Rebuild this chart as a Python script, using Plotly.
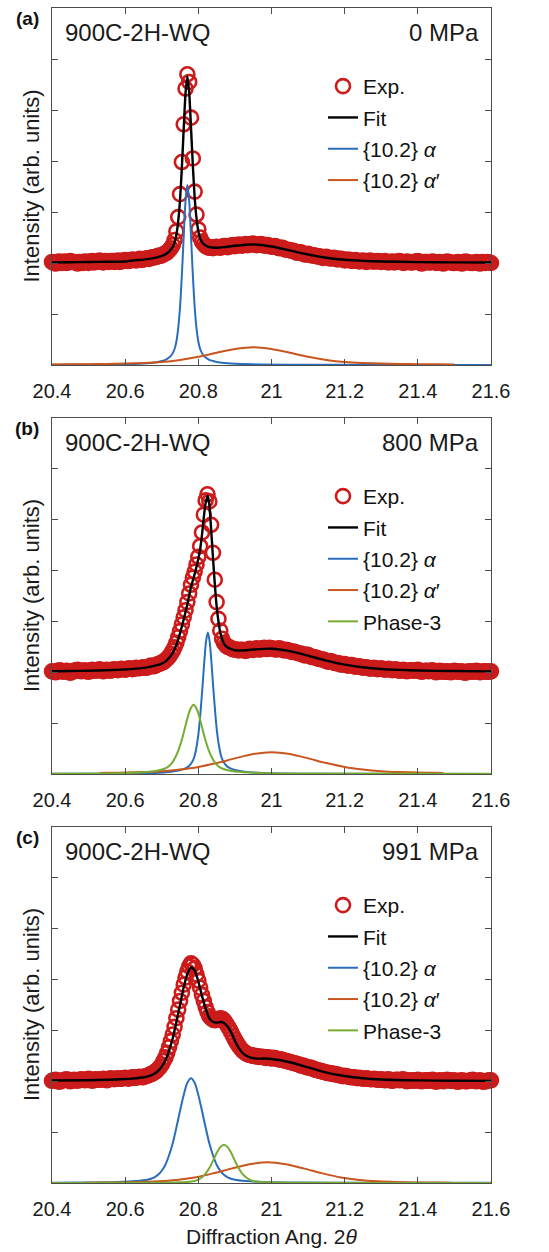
import plotly.graph_objects as go

# ---------------- DATA ----------------
x_ticks = [20.4, 20.6, 20.8, 21.0, 21.2, 21.4, 21.6]
x_tick_text = ["20.4", "20.6", "20.8", "21", "21.2", "21.4", "21.6"]
y_ticks = [1, 2, 3, 4, 5, 6]

panel_tags = ["(a)", "(b)", "(c)"]
sample_names = ["900C-2H-WQ", "900C-2H-WQ", "900C-2H-WQ"]
stress_labels = ["0 MPa", "800 MPa", "991 MPa"]

# ----- panel (a) : 0 MPa -----
exp_a_x = [20.40, 20.41, 20.42, 20.43, 20.44, 20.45, 20.46, 20.47, 20.48, 20.49,
           20.50, 20.51, 20.52, 20.53, 20.54, 20.55, 20.56, 20.57, 20.58, 20.59,
           20.60, 20.61, 20.62, 20.63, 20.64, 20.65, 20.66, 20.67, 20.68, 20.69,
           20.70, 20.705, 20.71, 20.715, 20.72, 20.725, 20.73, 20.735, 20.74, 20.745,
           20.75, 20.755, 20.76, 20.765, 20.77, 20.775, 20.78, 20.785, 20.79, 20.795,
           20.80, 20.805, 20.81, 20.815, 20.82, 20.825, 20.83, 20.835, 20.84, 20.845,
           20.85, 20.86, 20.87, 20.88, 20.89, 20.90, 20.91, 20.92, 20.93, 20.94,
           20.95, 20.96, 20.97, 20.98, 20.99, 21.00, 21.01, 21.02, 21.03, 21.04,
           21.05, 21.06, 21.07, 21.08, 21.09, 21.10, 21.11, 21.12, 21.13, 21.14,
           21.15, 21.16, 21.17, 21.18, 21.19, 21.20, 21.21, 21.22, 21.23, 21.24,
           21.25, 21.26, 21.27, 21.28, 21.29, 21.30, 21.31, 21.32, 21.33, 21.34,
           21.35, 21.36, 21.37, 21.38, 21.39, 21.40, 21.41, 21.42, 21.43, 21.44,
           21.45, 21.46, 21.47, 21.48, 21.49, 21.50, 21.51, 21.52, 21.53, 21.54,
           21.55, 21.56, 21.57, 21.58, 21.59, 21.60]
exp_a_y = [2.02, 1.99, 2.03, 2.01, 2.00, 2.04, 2.02, 1.99, 2.01, 2.03,
           2.00, 2.04, 2.02, 2.05, 2.01, 2.03, 2.04, 2.02, 2.05, 2.03,
           2.06, 2.04, 2.07, 2.05, 2.08, 2.07, 2.09, 2.10, 2.11, 2.14,
           2.15, 2.17, 2.19, 2.21, 2.25, 2.29, 2.35, 2.45, 2.62, 2.90,
           3.35, 3.98, 4.72, 5.42, 5.70, 5.55, 4.85, 4.05, 3.40, 2.95,
           2.66, 2.50, 2.42, 2.37, 2.33, 2.31, 2.30, 2.31, 2.29, 2.31,
           2.32, 2.30, 2.33, 2.31, 2.34, 2.33, 2.36, 2.34, 2.37, 2.36,
           2.38, 2.35, 2.37, 2.34, 2.35, 2.32, 2.33, 2.29, 2.30, 2.26,
           2.25, 2.24, 2.20, 2.21, 2.17, 2.18, 2.15, 2.14, 2.13, 2.10,
           2.12, 2.09, 2.10, 2.07, 2.08, 2.05, 2.07, 2.04, 2.06, 2.03,
           2.05, 2.02, 2.05, 2.03, 2.04, 2.02, 2.04, 2.01, 2.03, 2.02,
           2.04, 2.00, 2.03, 2.01, 2.02, 2.04, 1.99, 2.02, 2.01, 2.03,
           2.00, 2.02, 1.99, 2.03, 2.01, 2.00, 2.02, 1.99, 2.03, 2.01,
           2.00, 2.02, 1.99, 2.01, 2.02, 2.00]
# intermediate exp samples (a)
exp_a_x_mid = [20.405, 20.415, 20.425, 20.435, 20.445, 20.455, 20.465, 20.475, 20.485, 20.495,
               20.505, 20.515, 20.525, 20.535, 20.545, 20.555, 20.565, 20.575, 20.585, 20.595,
               20.605, 20.615, 20.625, 20.635, 20.645, 20.655, 20.665, 20.675, 20.685, 20.695,
               20.855, 20.865, 20.875, 20.885, 20.895, 20.905, 20.915, 20.925, 20.935, 20.945,
               20.955, 20.965, 20.975, 20.985, 20.995,
               21.005, 21.015, 21.025, 21.035, 21.045, 21.055, 21.065, 21.075, 21.085, 21.095,
               21.105, 21.115, 21.125, 21.135, 21.145, 21.155, 21.165, 21.175, 21.185, 21.195,
               21.205, 21.215, 21.225, 21.235, 21.245, 21.255, 21.265, 21.275, 21.285, 21.295,
               21.305, 21.315, 21.325, 21.335, 21.345, 21.355, 21.365, 21.375, 21.385, 21.395,
               21.405, 21.415, 21.425, 21.435, 21.445, 21.455, 21.465, 21.475, 21.485, 21.495,
               21.505, 21.515, 21.525, 21.535, 21.545, 21.555, 21.565, 21.575, 21.585, 21.595]
exp_a_y_mid = [2.00, 2.02, 2.00, 2.03, 2.01, 2.02, 2.01, 2.02, 2.00, 2.02,
               2.03, 2.01, 2.03, 2.02, 2.04, 2.02, 2.04, 2.03, 2.02, 2.05,
               2.04, 2.05, 2.06, 2.06, 2.06, 2.08, 2.08, 2.11, 2.12, 2.14,
               2.31, 2.32, 2.33, 2.32, 2.35, 2.34, 2.35, 2.36, 2.35, 2.37,
               2.36, 2.36, 2.36, 2.35, 2.33,
               2.32, 2.31, 2.30, 2.27, 2.26, 2.24, 2.22, 2.21, 2.19, 2.17,
               2.16, 2.15, 2.13, 2.12, 2.11, 2.10, 2.09, 2.09, 2.08, 2.07,
               2.06, 2.05, 2.05, 2.04, 2.04, 2.03, 2.04, 2.03, 2.03, 2.03,
               2.03, 2.02, 2.02, 2.01, 2.03, 2.02, 2.01, 2.02, 2.01, 2.03,
               2.01, 2.00, 2.02, 2.01, 2.02, 2.01, 2.00, 2.01, 2.02, 2.00,
               2.01, 2.01, 2.00, 2.02, 2.00, 2.01, 2.00, 2.02, 2.00, 2.01]
fit_a_x = [20.40, 20.45, 20.50, 20.55, 20.60, 20.62, 20.65, 20.67, 20.69, 20.70,
           20.71, 20.72, 20.73, 20.735, 20.74, 20.745, 20.75, 20.755, 20.76, 20.765,
           20.77, 20.775, 20.78, 20.785, 20.79, 20.795, 20.80, 20.805, 20.81, 20.82,
           20.83, 20.85, 20.87, 20.90, 20.95, 21.00, 21.05, 21.10, 21.15, 21.20,
           21.25, 21.30, 21.40, 21.50, 21.60]
fit_a_y = [2.010, 2.015, 2.020, 2.025, 2.030, 2.050, 2.066, 2.086, 2.116, 2.138,
           2.169, 2.223, 2.316, 2.401, 2.553, 2.819, 3.237, 3.871, 4.629, 5.334,
           5.654, 5.346, 4.653, 3.907, 3.285, 2.879, 2.623, 2.483, 2.410, 2.341,
           2.310, 2.300, 2.311, 2.338, 2.362, 2.323, 2.246, 2.166, 2.104, 2.063,
           2.042, 2.030, 2.018, 2.012, 2.010]
alpha_a_x = [20.40, 20.57, 20.62, 20.65, 20.67, 20.69, 20.70, 20.71, 20.72, 20.725,
             20.73, 20.735, 20.74, 20.745, 20.75, 20.755, 20.76, 20.765, 20.77, 20.775,
             20.78, 20.785, 20.79, 20.795, 20.80, 20.805, 20.81, 20.815, 20.82, 20.83,
             20.84, 20.85, 20.87, 20.89, 20.92, 20.97, 21.07, 21.60]
alpha_a_y = [0.003, 0.010, 0.018, 0.027, 0.039, 0.060, 0.078, 0.102, 0.148, 0.180,
             0.233, 0.314, 0.462, 0.724, 1.137, 1.765, 2.517, 3.216, 3.530, 3.216,
             2.517, 1.765, 1.137, 0.724, 0.462, 0.314, 0.233, 0.180, 0.148, 0.102,
             0.078, 0.060, 0.039, 0.027, 0.018, 0.010, 0.004, 0.002]
alphap_a_x = [20.40, 20.45, 20.50, 20.55, 20.60, 20.65, 20.70, 20.75, 20.80, 20.85,
              20.90, 20.95, 21.00, 21.05, 21.10, 21.15, 21.20, 21.25, 21.30, 21.35,
              21.40, 21.45, 21.50]
alphap_a_y = [0.0105, 0.013, 0.016, 0.020, 0.027, 0.039, 0.060, 0.100, 0.161, 0.240,
              0.315, 0.350, 0.315, 0.240, 0.161, 0.100, 0.060, 0.039, 0.027, 0.020,
              0.016, 0.013, 0.0105]

# ----- panel (b) : 800 MPa -----
exp_b_x = [20.40, 20.41, 20.42, 20.43, 20.44, 20.45, 20.46, 20.47, 20.48, 20.49,
           20.50, 20.51, 20.52, 20.53, 20.54, 20.55, 20.56, 20.57, 20.58, 20.59,
           20.60, 20.61, 20.62, 20.63, 20.64, 20.65, 20.66, 20.67, 20.68, 20.69,
           20.695, 20.70, 20.705, 20.71, 20.715, 20.72, 20.725, 20.73, 20.735, 20.74,
           20.745, 20.75, 20.755, 20.76, 20.765, 20.77, 20.775, 20.78, 20.785, 20.79,
           20.795, 20.80, 20.805, 20.81, 20.815, 20.82, 20.825, 20.83, 20.835, 20.84,
           20.845, 20.85, 20.855, 20.86, 20.865, 20.87,
           20.88, 20.89, 20.90, 20.91, 20.92, 20.93, 20.94, 20.95, 20.96, 20.97,
           20.98, 20.99, 21.00, 21.01, 21.02, 21.03, 21.04, 21.05, 21.06, 21.07,
           21.08, 21.09, 21.10, 21.11, 21.12, 21.13, 21.14, 21.15, 21.16, 21.17,
           21.18, 21.19, 21.20, 21.21, 21.22, 21.23, 21.24, 21.25, 21.26, 21.27,
           21.28, 21.29, 21.30, 21.31, 21.32, 21.33, 21.34, 21.35, 21.36, 21.37,
           21.38, 21.39, 21.40, 21.41, 21.42, 21.43, 21.44, 21.45, 21.46, 21.47,
           21.48, 21.49, 21.50, 21.51, 21.52, 21.53, 21.54, 21.55, 21.56, 21.57,
           21.58, 21.59, 21.60]
exp_b_y = [2.02, 2.00, 2.04, 2.01, 2.03, 1.99, 2.03, 2.05, 2.02, 2.04,
           2.01, 2.05, 2.03, 2.06, 2.02, 2.05, 2.03, 2.06, 2.04, 2.07,
           2.05, 2.08, 2.06, 2.09, 2.08, 2.10, 2.09, 2.13, 2.12, 2.16,
           2.17, 2.19, 2.20, 2.24, 2.27, 2.31, 2.36, 2.42, 2.49, 2.58,
           2.69, 2.81, 2.94, 3.08, 3.22, 3.38, 3.55, 3.72, 3.86, 3.98,
           4.12, 4.27, 4.48, 4.75, 5.10, 5.38, 5.50, 5.36, 4.90, 4.35,
           3.82, 3.38, 3.05, 2.82, 2.66, 2.58,
           2.50, 2.47, 2.45, 2.43, 2.44, 2.42, 2.46, 2.44, 2.47, 2.45,
           2.48, 2.46, 2.47, 2.45, 2.47, 2.44, 2.44, 2.42, 2.41, 2.38,
           2.37, 2.33, 2.34, 2.30, 2.29, 2.26, 2.25, 2.22, 2.22, 2.19,
           2.18, 2.15, 2.16, 2.13, 2.14, 2.11, 2.12, 2.09, 2.10, 2.07,
           2.09, 2.06, 2.08, 2.05, 2.07, 2.04, 2.06, 2.03, 2.05, 2.02,
           2.04, 2.03, 2.05, 2.01, 2.03, 2.02, 2.04, 2.00, 2.03, 2.01,
           2.02, 2.00, 2.03, 2.01, 2.02, 1.99, 2.02, 2.01, 2.03, 2.00,
           2.02, 2.01, 2.02]
# intermediate exp samples (b)
exp_b_x_mid = [20.405, 20.415, 20.425, 20.435, 20.445, 20.455, 20.465, 20.475, 20.485, 20.495,
               20.505, 20.515, 20.525, 20.535, 20.545, 20.555, 20.565, 20.575, 20.585, 20.595,
               20.605, 20.615, 20.625, 20.635, 20.645, 20.655, 20.665, 20.675, 20.685,
               20.875, 20.885, 20.895, 20.905, 20.915, 20.925, 20.935, 20.945, 20.955, 20.965,
               20.975, 20.985, 20.995,
               21.005, 21.015, 21.025, 21.035, 21.045, 21.055, 21.065, 21.075, 21.085, 21.095,
               21.105, 21.115, 21.125, 21.135, 21.145, 21.155, 21.165, 21.175, 21.185, 21.195,
               21.205, 21.215, 21.225, 21.235, 21.245, 21.255, 21.265, 21.275, 21.285, 21.295,
               21.305, 21.315, 21.325, 21.335, 21.345, 21.355, 21.365, 21.375, 21.385, 21.395,
               21.405, 21.415, 21.425, 21.435, 21.445, 21.455, 21.465, 21.475, 21.485, 21.495,
               21.505, 21.515, 21.525, 21.535, 21.545, 21.555, 21.565, 21.575, 21.585, 21.595]
exp_b_y_mid = [2.01, 2.02, 2.03, 2.02, 2.01, 2.01, 2.04, 2.03, 2.03, 2.02,
               2.03, 2.04, 2.04, 2.04, 2.04, 2.04, 2.05, 2.05, 2.05, 2.06,
               2.06, 2.07, 2.07, 2.08, 2.09, 2.09, 2.11, 2.12, 2.14,
               2.53, 2.49, 2.45, 2.44, 2.44, 2.43, 2.44, 2.45, 2.46, 2.45,
               2.47, 2.46, 2.48,
               2.46, 2.45, 2.46, 2.43, 2.43, 2.40, 2.40, 2.37, 2.35, 2.35,
               2.32, 2.30, 2.28, 2.26, 2.24, 2.21, 2.21, 2.18, 2.17, 2.16,
               2.14, 2.14, 2.12, 2.12, 2.10, 2.10, 2.08, 2.08, 2.07, 2.07,
               2.06, 2.06, 2.05, 2.05, 2.04, 2.04, 2.03, 2.03, 2.04, 2.04,
               2.03, 2.02, 2.03, 2.03, 2.02, 2.01, 2.02, 2.01, 2.01, 2.02,
               2.02, 2.01, 2.00, 2.01, 2.02, 2.02, 2.01, 2.01, 2.02, 2.01]
fit_b_x = [20.40, 20.45, 20.50, 20.55, 20.60, 20.63, 20.65, 20.67, 20.69, 20.70,
           20.71, 20.72, 20.73, 20.74, 20.75, 20.76, 20.77, 20.78, 20.79, 20.80,
           20.805, 20.81, 20.815, 20.82, 20.826, 20.83, 20.835, 20.84, 20.845, 20.85,
           20.855, 20.86, 20.87, 20.88, 20.89, 20.90, 20.92, 20.95, 21.00, 21.05,
           21.10, 21.15, 21.20, 21.25, 21.30, 21.35, 21.40, 21.50, 21.60]
fit_b_y = [2.019, 2.025, 2.031, 2.040, 2.056, 2.071, 2.087, 2.111, 2.145, 2.170,
           2.210, 2.280, 2.380, 2.540, 2.770, 3.040, 3.340, 3.680, 3.930, 4.230,
           4.420, 4.700, 5.050, 5.330, 5.470, 5.300, 4.810, 4.255, 3.740, 3.300,
           3.000, 2.780, 2.564, 2.487, 2.456, 2.434, 2.429, 2.447, 2.464, 2.417,
           2.326, 2.230, 2.151, 2.100, 2.065, 2.047, 2.035, 2.024, 2.017]
alpha_b_x = [20.40, 20.58, 20.68, 20.726, 20.746, 20.766, 20.776, 20.786, 20.791, 20.796,
             20.801, 20.806, 20.811, 20.816, 20.821, 20.826, 20.831, 20.836, 20.841, 20.846,
             20.851, 20.856, 20.861, 20.866, 20.876, 20.886, 20.906, 20.926, 20.976, 21.076,
             21.60]
alpha_b_y = [0.003, 0.007, 0.021, 0.044, 0.067, 0.117, 0.167, 0.278, 0.390, 0.570,
             0.834, 1.223, 1.682, 2.182, 2.605, 2.780, 2.605, 2.182, 1.682, 1.223,
             0.834, 0.570, 0.390, 0.278, 0.167, 0.117, 0.067, 0.044, 0.020, 0.007,
             0.002]
alphap_b_x = [20.53, 20.55, 20.60, 20.65, 20.70, 20.75, 20.80, 20.85, 20.90, 20.95,
              21.00, 21.05, 21.10, 21.15, 21.20, 21.25, 21.30, 21.35, 21.40, 21.45,
              21.47]
alphap_b_y = [0.021, 0.023, 0.028, 0.039, 0.056, 0.088, 0.138, 0.215, 0.307, 0.392,
              0.430, 0.392, 0.307, 0.215, 0.138, 0.088, 0.056, 0.039, 0.028, 0.023,
              0.021]
phase3_b_x = [20.40, 20.53, 20.607, 20.657, 20.687, 20.707, 20.717, 20.727, 20.737, 20.747,
              20.757, 20.767, 20.777, 20.787, 20.797, 20.807, 20.817, 20.827, 20.837, 20.847,
              20.857, 20.867, 20.887, 20.917, 20.967, 21.037, 21.60]
phase3_b_y = [0.004, 0.011, 0.021, 0.038, 0.065, 0.103, 0.141, 0.211, 0.324, 0.495,
              0.728, 1.008, 1.254, 1.360, 1.254, 1.008, 0.728, 0.495, 0.324, 0.211,
              0.141, 0.103, 0.065, 0.038, 0.021, 0.011, 0.003]

# ----- panel (c) : 991 MPa -----
exp_c_x = [20.40, 20.41, 20.42, 20.43, 20.44, 20.45, 20.46, 20.47, 20.48, 20.49,
           20.50, 20.51, 20.52, 20.53, 20.54, 20.55, 20.56, 20.57, 20.58, 20.59,
           20.60, 20.61, 20.62, 20.63, 20.64, 20.65,
           20.66, 20.665, 20.67, 20.675, 20.68, 20.685, 20.69, 20.695, 20.70, 20.705,
           20.71, 20.715, 20.72, 20.725, 20.73, 20.735, 20.74, 20.745, 20.75, 20.755,
           20.76, 20.765, 20.77, 20.775, 20.78, 20.785, 20.79, 20.795, 20.80, 20.805,
           20.81, 20.815, 20.82, 20.825, 20.83, 20.835, 20.84, 20.845, 20.85, 20.855,
           20.86, 20.865, 20.87, 20.875, 20.88, 20.885, 20.89, 20.895, 20.90, 20.905,
           20.91,
           20.92, 20.93, 20.94, 20.95, 20.96, 20.97, 20.98, 20.99, 21.00, 21.01,
           21.02, 21.03, 21.04, 21.05, 21.06, 21.07, 21.08, 21.09, 21.10, 21.11,
           21.12, 21.13, 21.14, 21.15, 21.16, 21.17, 21.18, 21.19, 21.20, 21.21,
           21.22, 21.23, 21.24, 21.25, 21.26, 21.27, 21.28, 21.29, 21.30, 21.31,
           21.32, 21.33, 21.34, 21.35, 21.36, 21.37, 21.38, 21.39, 21.40, 21.41,
           21.42, 21.43, 21.44, 21.45, 21.46, 21.47, 21.48, 21.49, 21.50, 21.51,
           21.52, 21.53, 21.54, 21.55, 21.56, 21.57, 21.58, 21.59, 21.60]
exp_c_y = [2.01, 2.03, 1.99, 2.02, 2.04, 2.00, 2.03, 2.01, 2.04, 2.02,
           2.05, 2.01, 2.04, 2.03, 2.05, 2.02, 2.06, 2.04, 2.06, 2.05,
           2.07, 2.05, 2.08, 2.07, 2.09, 2.08,
           2.11, 2.12, 2.14, 2.15, 2.18, 2.20, 2.24, 2.28, 2.33, 2.40,
           2.47, 2.56, 2.67, 2.79, 2.92, 3.07, 3.24, 3.41, 3.58, 3.74,
           3.90, 4.04, 4.16, 4.26, 4.32, 4.29, 4.22, 4.10, 3.98, 3.84,
           3.70, 3.58, 3.46, 3.36, 3.28, 3.24, 3.21, 3.20, 3.21, 3.22,
           3.24, 3.23, 3.20, 3.15, 3.09, 3.03, 2.96, 2.89, 2.82, 2.76,
           2.70,
           2.61, 2.55, 2.52, 2.50, 2.49, 2.48, 2.47, 2.47, 2.45, 2.45,
           2.43, 2.42, 2.40, 2.38, 2.36, 2.34, 2.31, 2.30, 2.27, 2.26,
           2.23, 2.21, 2.19, 2.17, 2.16, 2.14, 2.13, 2.11, 2.11, 2.09,
           2.08, 2.07, 2.07, 2.05, 2.06, 2.04, 2.05, 2.03, 2.04, 2.02,
           2.04, 2.01, 2.03, 2.02, 2.04, 2.00, 2.02, 2.01, 2.03, 2.00,
           2.02, 2.01, 2.03, 1.99, 2.02, 2.00, 2.03, 2.01, 2.02, 1.99,
           2.02, 2.00, 2.01, 2.03, 2.00, 2.02, 1.99, 2.01, 2.02]
# intermediate exp samples (c)
exp_c_x_mid = [20.405, 20.415, 20.425, 20.435, 20.445, 20.455, 20.465, 20.475, 20.485, 20.495,
               20.505, 20.515, 20.525, 20.535, 20.545, 20.555, 20.565, 20.575, 20.585, 20.595,
               20.605, 20.615, 20.625, 20.635, 20.645, 20.655,
               20.915, 20.925, 20.935, 20.945, 20.955, 20.965, 20.975, 20.985, 20.995,
               21.005, 21.015, 21.025, 21.035, 21.045, 21.055, 21.065, 21.075, 21.085, 21.095,
               21.105, 21.115, 21.125, 21.135, 21.145, 21.155, 21.165, 21.175, 21.185, 21.195,
               21.205, 21.215, 21.225, 21.235, 21.245, 21.255, 21.265, 21.275, 21.285, 21.295,
               21.305, 21.315, 21.325, 21.335, 21.345, 21.355, 21.365, 21.375, 21.385, 21.395,
               21.405, 21.415, 21.425, 21.435, 21.445, 21.455, 21.465, 21.475, 21.485, 21.495,
               21.505, 21.515, 21.525, 21.535, 21.545, 21.555, 21.565, 21.575, 21.585, 21.595]
exp_c_y_mid = [2.02, 2.01, 2.01, 2.03, 2.02, 2.02, 2.02, 2.03, 2.03, 2.03,
               2.03, 2.03, 2.03, 2.04, 2.03, 2.04, 2.05, 2.05, 2.05, 2.06,
               2.06, 2.07, 2.07, 2.08, 2.08, 2.10,
               2.65, 2.58, 2.53, 2.51, 2.50, 2.48, 2.48, 2.46, 2.46,
               2.46, 2.44, 2.43, 2.41, 2.39, 2.37, 2.35, 2.33, 2.31, 2.28,
               2.27, 2.24, 2.22, 2.20, 2.18, 2.16, 2.15, 2.14, 2.12, 2.10,
               2.10, 2.08, 2.08, 2.06, 2.06, 2.05, 2.05, 2.04, 2.04, 2.03,
               2.03, 2.03, 2.02, 2.02, 2.03, 2.03, 2.02, 2.01, 2.02, 2.02,
               2.01, 2.01, 2.02, 2.02, 2.01, 2.01, 2.01, 2.02, 2.02, 2.01,
               2.00, 2.01, 2.01, 2.00, 2.02, 2.01, 2.01, 2.00, 2.00, 2.02]
fit_c_x = [20.40, 20.50, 20.55, 20.60, 20.62, 20.64, 20.66, 20.68, 20.69, 20.70,
           20.71, 20.72, 20.73, 20.74, 20.75, 20.76, 20.77, 20.78, 20.79, 20.80,
           20.81, 20.82, 20.83, 20.84, 20.85, 20.86, 20.87, 20.88, 20.89, 20.90,
           20.91, 20.92, 20.93, 20.94, 20.96, 20.98, 21.00, 21.05, 21.10, 21.15,
           21.20, 21.25, 21.30, 21.40, 21.50, 21.60]
fit_c_y = [2.014, 2.021, 2.030, 2.044, 2.053, 2.069, 2.093, 2.148, 2.203, 2.288,
           2.412, 2.604, 2.846, 3.166, 3.504, 3.850, 4.110, 4.240, 4.180, 3.960,
           3.680, 3.430, 3.240, 3.170, 3.154, 3.166, 3.147, 3.076, 2.957, 2.797,
           2.663, 2.567, 2.505, 2.470, 2.446, 2.447, 2.438, 2.374, 2.274, 2.171,
           2.103, 2.059, 2.035, 2.017, 2.011, 2.008]
alpha_c_x = [20.40, 20.48, 20.58, 20.63, 20.66, 20.68, 20.69, 20.70, 20.71, 20.72,
             20.73, 20.74, 20.75, 20.76, 20.77, 20.78, 20.79, 20.80, 20.81, 20.82,
             20.83, 20.84, 20.85, 20.86, 20.87, 20.88, 20.90, 20.93, 20.98, 21.08,
             21.18, 21.60]
alpha_c_y = [0.007, 0.010, 0.021, 0.037, 0.062, 0.111, 0.161, 0.241, 0.360, 0.546,
             0.780, 1.090, 1.420, 1.730, 1.970, 2.060, 1.970, 1.730, 1.420, 1.090,
             0.780, 0.546, 0.360, 0.241, 0.161, 0.111, 0.062, 0.037, 0.021, 0.010,
             0.007, 0.003]
alphap_c_x = [20.49, 20.54, 20.59, 20.64, 20.69, 20.74, 20.79, 20.84, 20.89, 20.94,
              20.99, 21.04, 21.09, 21.14, 21.19, 21.24, 21.29, 21.34, 21.39, 21.44,
              21.49]
alphap_c_y = [0.007, 0.009, 0.012, 0.018, 0.032, 0.059, 0.109, 0.189, 0.283, 0.369,
              0.410, 0.369, 0.283, 0.189, 0.109, 0.059, 0.032, 0.018, 0.012, 0.009,
              0.007]
phase3_c_x = [20.40, 20.47, 20.67, 20.74, 20.77, 20.79, 20.80, 20.81, 20.82, 20.83,
              20.84, 20.85, 20.86, 20.87, 20.88, 20.89, 20.90, 20.91, 20.92, 20.93,
              20.94, 20.95, 20.97, 21.00, 21.07, 21.27, 21.60]
phase3_c_y = [0.002, 0.002, 0.005, 0.012, 0.021, 0.041, 0.068, 0.113, 0.184, 0.293,
              0.435, 0.589, 0.705, 0.750, 0.705, 0.589, 0.435, 0.293, 0.184, 0.113,
              0.068, 0.041, 0.021, 0.012, 0.005, 0.002, 0.001]

legend_names = ["Exp.", "Fit",
                "{10.2} <i>α</i>",
                "{10.2} <i>α</i>′",
                "Phase-3"]

# ---------------- STYLE ----------------
W, H = 549, 1252
FONT = "Liberation Sans, Arial, sans-serif"
RED = "#CC1B1B"
BLACK = "#000000"
BLUE = "#2A6EBB"
ORANGE = "#C8561E"
GREEN = "#77AC30"
AXC = "#4d4d4d"

# plot-area pixel boxes (top, bottom) for each panel; x from 52 to 491
X0, X1 = 52, 491
boxes = [(8, 365), (418, 774), (827, 1183)]

def py(v):
    return 1 - v / H

panels = [
    dict(exp=(exp_a_x + exp_a_x_mid, exp_a_y + exp_a_y_mid), fit=(fit_a_x, fit_a_y),
         comps=[(alpha_a_x, alpha_a_y, BLUE, legend_names[2]),
                (alphap_a_x, alphap_a_y, ORANGE, legend_names[3])]),
    dict(exp=(exp_b_x + exp_b_x_mid, exp_b_y + exp_b_y_mid), fit=(fit_b_x, fit_b_y),
         comps=[(alpha_b_x, alpha_b_y, BLUE, legend_names[2]),
                (alphap_b_x, alphap_b_y, ORANGE, legend_names[3]),
                (phase3_b_x, phase3_b_y, GREEN, legend_names[4])]),
    dict(exp=(exp_c_x + exp_c_x_mid, exp_c_y + exp_c_y_mid), fit=(fit_c_x, fit_c_y),
         comps=[(alpha_c_x, alpha_c_y, BLUE, legend_names[2]),
                (alphap_c_x, alphap_c_y, ORANGE, legend_names[3]),
                (phase3_c_x, phase3_c_y, GREEN, legend_names[4])]),
]

fig = go.Figure()
legend_ids = ["legend", "legend2", "legend3"]
layout = {}
annotations = []

for i, p in enumerate(panels):
    sfx = "" if i == 0 else str(i + 1)
    xa, ya = "x" + sfx, "y" + sfx
    lg = legend_ids[i]
    ex, ey = p["exp"]
    fig.add_trace(go.Scatter(
        x=ex, y=ey, mode="markers", name=legend_names[0], xaxis=xa, yaxis=ya,
        legend=lg, legendgroup=f"e{i}", cliponaxis=False,
        marker=dict(symbol="circle-open", size=14, color=RED, line=dict(width=2.6, color=RED))))
    fx, fy = p["fit"]
    fig.add_trace(go.Scatter(
        x=fx, y=fy, mode="lines", name=legend_names[1], xaxis=xa, yaxis=ya,
        legend=lg, legendgroup=f"f{i}",
        line=dict(color=BLACK, width=2.4, shape="spline", smoothing=0.6)))
    for k, (cx, cy, col, nm) in enumerate(p["comps"]):
        fig.add_trace(go.Scatter(
            x=cx, y=cy, mode="lines", name=nm, xaxis=xa, yaxis=ya,
            legend=lg, legendgroup=f"c{i}{k}",
            line=dict(color=col, width=2, shape="spline", smoothing=0.8)))

    top, bot = boxes[i]
    layout["xaxis" + sfx] = dict(
        domain=[X0 / W, X1 / W], anchor=ya, range=[20.4, 21.6], automargin=False,
        tickvals=x_ticks, ticktext=x_tick_text, ticks="inside", ticklen=6,
        tickcolor=AXC, showline=True, linecolor=AXC, linewidth=1.2, mirror="ticks",
        showgrid=False, zeroline=False,
        tickfont=dict(family=FONT, size=20, color="#1a1a1a"), ticklabelstandoff=8)
    layout["yaxis" + sfx] = dict(
        domain=[py(bot), py(top)], anchor=xa, range=[0, 7], automargin=False,
        tickvals=y_ticks, showticklabels=False, ticks="inside", ticklen=6,
        tickcolor=AXC, showline=True, linecolor=AXC, linewidth=1.2, mirror="ticks",
        showgrid=False, zeroline=False)

    # legend placement
    layout[lg] = dict(
        x=323 / W, y=py(top + 58), xanchor="left", yanchor="top",
        bgcolor="rgba(0,0,0,0)", borderwidth=0, tracegroupgap=1,
        font=dict(family=FONT, size=21, color="#111111"), itemwidth=30)

    # texts inside panels
    annotations.append(dict(text="<b>" + panel_tags[i] + "</b>", x=27 / W, y=py(top + 10),
                            xref="paper", yref="paper",
                            xanchor="center", yanchor="middle", showarrow=False,
                            font=dict(family=FONT, size=19, color="#111111")))
    annotations.append(dict(text=sample_names[i], x=63 / W, y=py(top + 24), xref="paper", yref="paper",
                            xanchor="left", yanchor="middle", showarrow=False,
                            font=dict(family=FONT, size=24, color="#1a1a1a")))
    annotations.append(dict(text=stress_labels[i], x=481 / W, y=py(top + 24), xref="paper", yref="paper",
                            xanchor="right", yanchor="middle", showarrow=False,
                            font=dict(family=FONT, size=24, color="#1a1a1a")))
    annotations.append(dict(text="Intensity (arb. units)", x=31 / W, y=py((top + bot) / 2),
                            xref="paper", yref="paper", xanchor="center", yanchor="middle",
                            textangle=-90, showarrow=False,
                            font=dict(family=FONT, size=22, color="#1a1a1a")))

annotations.append(dict(text="Diffraction Ang. 2<i>θ</i>", x=(X0 + X1) / 2 / W, y=py(1236),
                        xref="paper", yref="paper", xanchor="center", yanchor="middle",
                        showarrow=False, font=dict(family=FONT, size=21, color="#1a1a1a")))

fig.update_layout(
    template="none",
    width=W, height=H, margin=dict(l=0, r=0, t=0, b=0, pad=0, autoexpand=False),
    paper_bgcolor="white", plot_bgcolor="white", showlegend=True,
    annotations=annotations, **layout)

fig.write_html("out.html", config={"displayModeBar": False},
               post_script="document.body.style.margin='0px';document.body.style.overflow='hidden';")
